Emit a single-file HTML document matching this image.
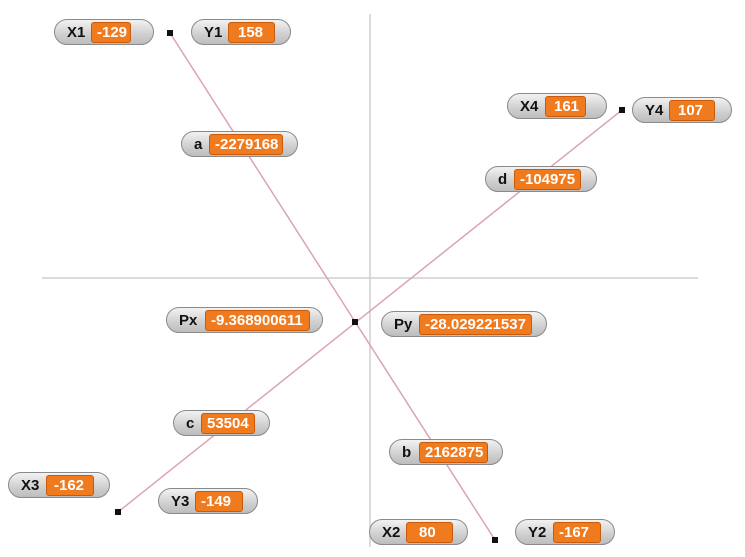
<!DOCTYPE html>
<html><head><meta charset="utf-8"><style>
html,body{margin:0;padding:0;background:#fff;width:745px;height:557px;overflow:hidden;position:relative;font-family:"Liberation Sans",sans-serif}
.p{position:absolute;height:26px;border:1px solid #8a8a8a;border-radius:13px;background:linear-gradient(#f2f2f2,#cfcfcf 60%,#bdbdbd);box-sizing:border-box}
.l{position:absolute;top:4px;font-weight:bold;font-size:15px;color:#111;line-height:17px}
.v{position:absolute;top:2px;height:21px;background:#f07a1e;border:1px solid #c85a0a;border-radius:3px;box-sizing:border-box;color:#fff;font-weight:bold;font-size:15px;line-height:19px;padding-left:5px;white-space:nowrap;overflow:hidden}
svg{position:absolute;left:0;top:0}
</style></head><body>
<svg width="745" height="557">
<line x1="370" y1="14" x2="370" y2="547" stroke="#cfcfcf" stroke-width="1.5"/>
<line x1="42" y1="278" x2="698" y2="278" stroke="#cfcfcf" stroke-width="1.5"/>
<line x1="170" y1="33" x2="495" y2="540" stroke="#dba3b5" stroke-width="1.5"/>
<line x1="118" y1="512" x2="622" y2="110" stroke="#dba3b5" stroke-width="1.5"/>
<rect x="167" y="30" width="6" height="6" fill="#111"/>
<rect x="492" y="537" width="6" height="6" fill="#111"/>
<rect x="115" y="509" width="6" height="6" fill="#111"/>
<rect x="619" y="107" width="6" height="6" fill="#111"/>
<rect x="352" y="319" width="6" height="6" fill="#111"/>
</svg>
<div class="p" style="left:54px;top:19px;width:100px"><span class="l" style="left:12px">X1</span><div class="v" style="left:36px;width:40px">-129</div></div>
<div class="p" style="left:191px;top:19px;width:100px"><span class="l" style="left:12px">Y1</span><div class="v" style="left:36px;width:47px;padding-left:9px">158</div></div>
<div class="p" style="left:507px;top:93px;width:100px"><span class="l" style="left:12px">X4</span><div class="v" style="left:37px;width:41px;padding-left:8px">161</div></div>
<div class="p" style="left:632px;top:97px;width:100px"><span class="l" style="left:12px">Y4</span><div class="v" style="left:36px;width:46px;padding-left:8px">107</div></div>
<div class="p" style="left:181px;top:131px;width:117px"><span class="l" style="left:12px">a</span><div class="v" style="left:27px;width:74px">-2279168</div></div>
<div class="p" style="left:485px;top:166px;width:112px"><span class="l" style="left:12px">d</span><div class="v" style="left:28px;width:67px">-104975</div></div>
<div class="p" style="left:166px;top:307px;width:157px"><span class="l" style="left:12px">Px</span><div class="v" style="left:38px;width:105px">-9.368900611</div></div>
<div class="p" style="left:381px;top:311px;width:166px"><span class="l" style="left:12px">Py</span><div class="v" style="left:37px;width:113px">-28.029221537</div></div>
<div class="p" style="left:173px;top:410px;width:97px"><span class="l" style="left:12px">c</span><div class="v" style="left:27px;width:54px">53504</div></div>
<div class="p" style="left:389px;top:439px;width:114px"><span class="l" style="left:12px">b</span><div class="v" style="left:29px;width:69px">2162875</div></div>
<div class="p" style="left:8px;top:472px;width:102px"><span class="l" style="left:12px">X3</span><div class="v" style="left:37px;width:48px;padding-left:7px">-162</div></div>
<div class="p" style="left:158px;top:488px;width:100px"><span class="l" style="left:12px">Y3</span><div class="v" style="left:36px;width:48px">-149</div></div>
<div class="p" style="left:369px;top:519px;width:99px"><span class="l" style="left:12px">X2</span><div class="v" style="left:36px;width:47px;padding-left:12px">80</div></div>
<div class="p" style="left:515px;top:519px;width:100px"><span class="l" style="left:12px">Y2</span><div class="v" style="left:37px;width:48px">-167</div></div>
</body></html>
